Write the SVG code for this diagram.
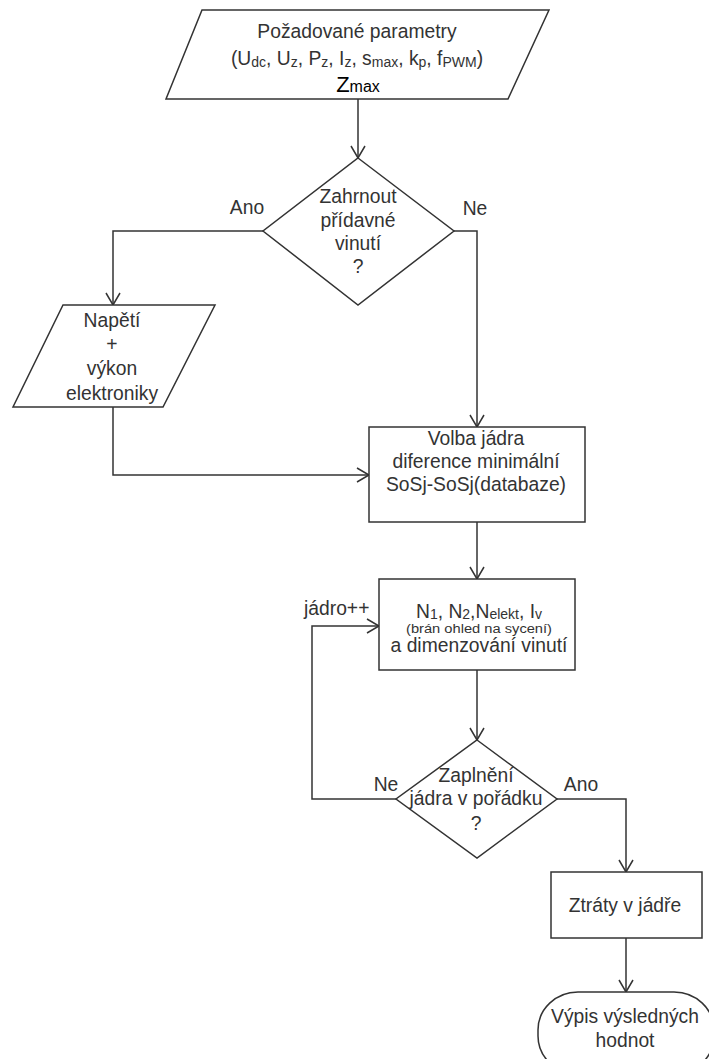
<svg xmlns="http://www.w3.org/2000/svg" width="709" height="1059" viewBox="0 0 709 1059">
<style>
.s{fill:#fff;stroke:#333;stroke-width:1.5}
.c{fill:none;stroke:#333;stroke-width:1.5}
text{font-family:"Liberation Sans",Arial,sans-serif;font-size:19.3px;fill:#333;text-anchor:middle}
.l{text-anchor:start}
.sm{font-size:14px}
</style>
<defs>
<marker id="a" markerUnits="userSpaceOnUse" markerWidth="16" markerHeight="16" refX="0" refY="0" viewBox="-14 -8 16 16" orient="auto">
<path d="M-12,-7 L0,0 L-12,7" fill="none" stroke="#333" stroke-width="1.5"/>
</marker>
</defs>
<rect width="709" height="1059" fill="#fff"/>
<g id="connectors">
<path class="c" d="M358,99 V158" marker-end="url(#a)"/>
<path class="c" d="M263,231 H113 V305" marker-end="url(#a)"/>
<path class="c" d="M454,231 H477 V427" marker-end="url(#a)"/>
<path class="c" d="M113,407 V475 H369" marker-end="url(#a)"/>
<path class="c" d="M477,522 V579" marker-end="url(#a)"/>
<path class="c" d="M477,670 V740" marker-end="url(#a)"/>
<path class="c" d="M396,799 H312 V626 H379" marker-end="url(#a)"/>
<path class="c" d="M557,799 H626 V872" marker-end="url(#a)"/>
<path class="c" d="M626,938 V992" marker-end="url(#a)"/>
<text x="247" y="214">Ano</text>
<text x="475" y="215">Ne</text>
<text class="l" x="304" y="615">jádro++</text>
<text x="386" y="791">Ne</text>
<text x="581" y="791">Ano</text>
</g>
<g id="input">
<polygon class="s" points="202,10 549,10 508,99 166,99"/>
<text x="357" y="38">Požadované parametry</text>
<text x="357" y="65">(U<tspan class="sm" dy="2">dc</tspan><tspan dy="-2">, U</tspan><tspan class="sm" dy="2">z</tspan><tspan dy="-2">, P</tspan><tspan class="sm" dy="2">z</tspan><tspan dy="-2">, I</tspan><tspan class="sm" dy="2">z</tspan><tspan dy="-2">, s</tspan><tspan class="sm" dy="2">max</tspan><tspan dy="-2">, k</tspan><tspan class="sm" dy="2">p</tspan><tspan dy="-2">, f</tspan><tspan class="sm" dy="2">PWM</tspan><tspan dy="-2">)</tspan></text>
<text x="358" y="92" style="fill:#000;font-size:22px">Z<tspan style="font-size:16px">max</tspan></text>
</g>
<g id="decision1">
<polygon class="s" points="358,158 454,231 358,305 263,231"/>
<text x="358" y="203">Zahrnout</text>
<text x="358" y="227">přídavné</text>
<text x="358" y="250">vinutí</text>
<text x="358" y="273">?</text>
</g>
<g id="input2">
<polygon class="s" points="63,305 215,305 163,407 13,407"/>
<text x="112" y="327">Napětí</text>
<text x="112" y="351">+</text>
<text x="112" y="375">výkon</text>
<text x="112" y="400">elektroniky</text>
</g>
<g id="core">
<rect class="s" x="369" y="427" width="216" height="95"/>
<text x="476" y="445">Volba jádra</text>
<text x="476" y="468">diference minimální</text>
<text x="476" y="491">SoSj-SoSj(databaze)</text>
</g>
<g id="winding">
<rect class="s" x="379" y="579" width="196" height="91"/>
<text x="479" y="618">N<tspan class="sm" dy="1">1</tspan><tspan dy="-1">, N</tspan><tspan class="sm" dy="1">2</tspan><tspan dy="-1">,N</tspan><tspan class="sm" dy="1">elekt</tspan><tspan dy="-1">, I</tspan><tspan class="sm" dy="1">v</tspan></text>
<text x="479" y="633" style="font-size:12px" textLength="146" lengthAdjust="spacingAndGlyphs">(brán ohled na sycení)</text>
<text x="479" y="652">a dimenzování vinutí</text>
</g>
<g id="decision2">
<polygon class="s" points="477,740 557,799 477,858 396,799"/>
<text x="476" y="782">Zaplnění</text>
<text x="476" y="805">jádra v pořádku</text>
<text x="476" y="830">?</text>
</g>
<g id="losses">
<rect class="s" x="551" y="872" width="151" height="66"/>
<text x="625" y="912">Ztráty v jádře</text>
</g>
<g id="output">
<rect class="s" x="538" y="992" width="176" height="82" rx="40" ry="38"/>
<text x="625" y="1023">Výpis výsledných</text>
<text x="625" y="1047">hodnot</text>
</g>
</svg>
